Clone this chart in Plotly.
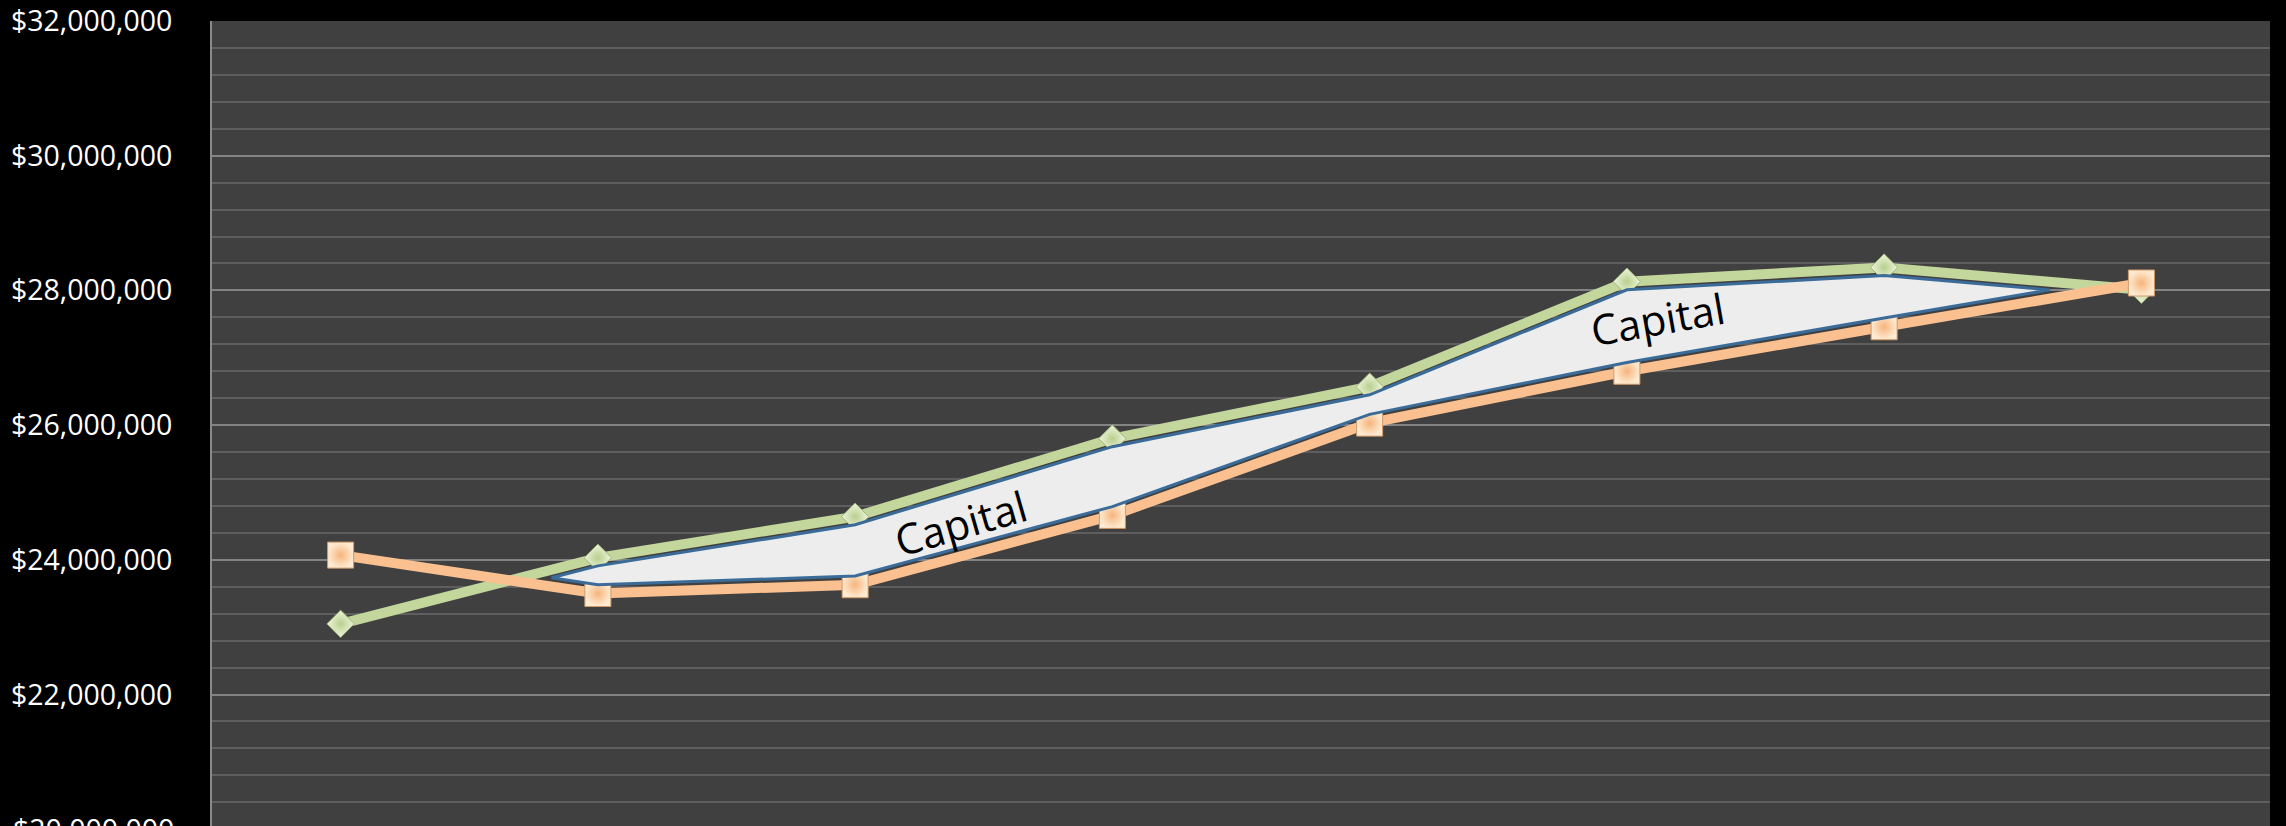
import plotly.graph_objects as go

# ---------------- data ----------------
periods = [0, 1, 2, 3, 4, 5, 6, 7]
green_values = [23.05e6, 24.03e6, 24.64e6, 25.80e6, 26.57e6, 28.13e6, 28.34e6, 28.01e6]
orange_values = [24.07e6, 23.50e6, 23.63e6, 24.66e6, 26.03e6, 26.80e6, 27.46e6, 28.11e6]
y_tick_values = [20e6, 22e6, 24e6, 26e6, 28e6, 30e6, 32e6]
y_tick_labels = ["$20,000,000", "$22,000,000", "$24,000,000", "$26,000,000",
                 "$28,000,000", "$30,000,000", "$32,000,000"]
band_label = "Capital"

Y_MIN, Y_MAX = 20.048e6, 32.0e6

# ---------------- band shape between the two series ----------------
UP_OFF = 0.12e6
LO_OFF = 0.13e6


def crossing(i):
    u0, u1 = green_values[i] - UP_OFF, green_values[i + 1] - UP_OFF
    l0, l1 = orange_values[i] + LO_OFF, orange_values[i + 1] + LO_OFF
    t = (l0 - u0) / ((u1 - u0) - (l1 - l0))
    return periods[i] + t * (periods[i + 1] - periods[i]), u0 + t * (u1 - u0)


cx0, cy0 = crossing(0)
cx1, cy1 = crossing(6)
band_x = [cx0] + periods[1:7] + [cx1] + periods[6:0:-1] + [cx0]
band_y = ([cy0] + [v - UP_OFF for v in green_values[1:7]] + [cy1]
          + [v + LO_OFF for v in orange_values[6:0:-1]] + [cy0])

fig = go.Figure()

fig.add_trace(go.Scatter(
    x=periods, y=green_values, mode="lines+markers",
    line=dict(color="#C3D69B", width=10),
    marker=dict(symbol="diamond", size=21, color="#EEF5DC",
                gradient=dict(type="radial", color="#B9CF8E"),
                line=dict(color="#9FB57A", width=1)),
    showlegend=False, hoverinfo="skip",
))
fig.add_trace(go.Scatter(
    x=periods, y=orange_values, mode="lines+markers",
    line=dict(color="#FAC090", width=10),
    marker=dict(symbol="square", size=26, color="#FFEBD2",
                gradient=dict(type="radial", color="#F6B47C"),
                line=dict(color="#D39A68", width=1)),
    showlegend=False, hoverinfo="skip",
))
fig.add_trace(go.Scatter(
    x=band_x, y=band_y, mode="lines", fill="toself",
    fillcolor="#EDEDED", line=dict(color="#3B6C99", width=3),
    showlegend=False, hoverinfo="skip",
))

fig.add_annotation(x=2.41, y=24.56e6, xref="x", yref="y", text=band_label,
                   showarrow=False, textangle=-16,
                   font=dict(family="Open Sans", size=42, color="#000000"))
fig.add_annotation(x=5.12, y=27.59e6, xref="x", yref="y", text=band_label,
                   showarrow=False, textangle=-10,
                   font=dict(family="Open Sans", size=42, color="#000000"))

# partially visible lowest tick label (just below the visible range)
fig.add_annotation(x=0, xref="paper", xanchor="right", xshift=-36,
                   y=(y_tick_values[0] - Y_MIN) / (Y_MAX - Y_MIN), yref="paper",
                   yanchor="middle", text=y_tick_labels[0], showarrow=False,
                   font=dict(family="Open Sans", size=28.5, color="#FFFFFF"))

fig.update_layout(
    width=2286, height=826,
    margin=dict(l=212, r=16, t=21, b=0),
    paper_bgcolor="#000000",
    plot_bgcolor="#404040",
    font=dict(family="Open Sans", size=28.5, color="#FFFFFF"),
    xaxis=dict(range=[-0.5, 7.5], showgrid=False, zeroline=False,
               showticklabels=False, showline=False, fixedrange=True),
    yaxis=dict(range=[Y_MIN, Y_MAX], tickvals=y_tick_values,
               ticktext=y_tick_labels, showgrid=True, gridcolor="#838383",
               gridwidth=2, zeroline=False, showline=True,
               linecolor="#8A8A8A", linewidth=2, ticks="",
               ticklabelstandoff=32,
               tickfont=dict(family="Open Sans", size=28.5, color="#FFFFFF"),
               minor=dict(dtick=400000, showgrid=True, gridcolor="#5E5E5E",
                          gridwidth=1.5, ticks="")),
)

fig.write_html(
    "out.html",
    config={"displayModeBar": False},
    post_script="document.body.style.margin='0';"
                "document.body.style.background='#000000';"
                "document.body.style.overflow='hidden';",
)
